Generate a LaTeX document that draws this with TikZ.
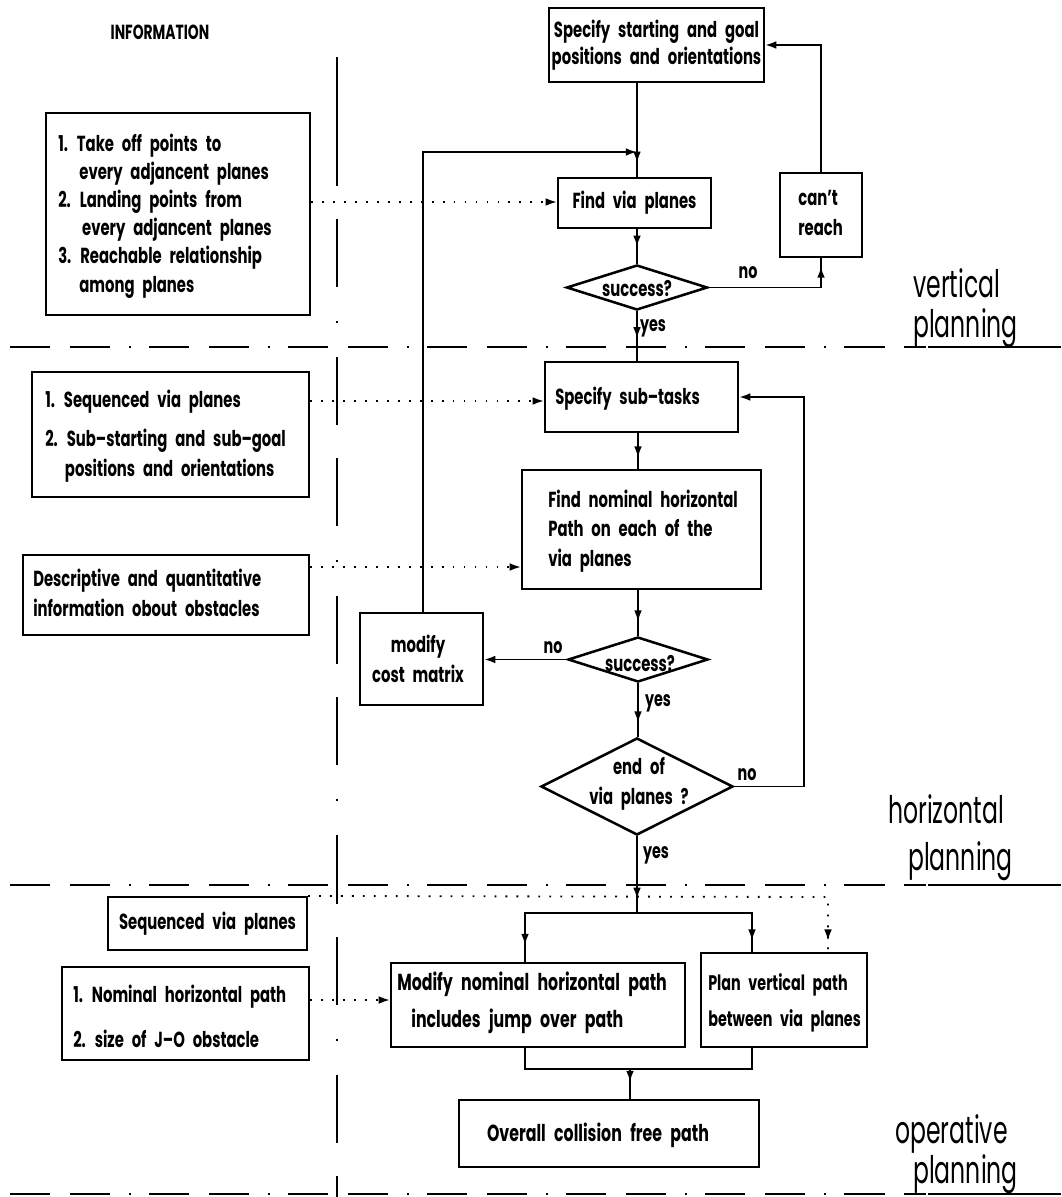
\documentclass[tikz,border=0pt]{standalone}
\usepackage{fontspec}
\setmainfont{Poppins}[FakeStretch=0.68, WordSpace=2.5]
\newfontfamily\labfont{Poppins}[FakeStretch=0.62]
\usetikzlibrary{arrows.meta,shapes.geometric,decorations.markings,fit}

\begin{document}
\begin{tikzpicture}[x=0.025cm, y=-0.025cm,
  box/.style={draw, line width=1.5pt, inner sep=0pt},
  dia/.style={draw, diamond, line width=1.8pt, inner sep=0pt},
  txt/.style={font=\bfseries\fontsize{15.5}{21}\selectfont, inner sep=0pt, align=left},
  ctxt/.style={txt, align=center},
  lab/.style={font=\labfont\fontsize{27}{32}\selectfont, inner sep=0pt, anchor=base west},
  yn/.style={font=\bfseries\fontsize{15}{18}\selectfont, inner sep=0pt},
  flow/.style={line width=1.4pt},
  tipmark/.style={postaction=decorate, decoration={markings,
      mark=at position #1 with {\arrow{Latex[length=8pt,width=5.5pt]}}}},
  tipend/.style={-{Latex[length=8pt,width=5.5pt]}},
  dots/.style={line width=1.3pt, dash pattern=on 1.3pt off 6.5pt},
  sepH/.style={line width=1.6pt, dash pattern=on 28.5pt off 14.2pt on 28.5pt off 13.5pt on 1.4pt off 12.8pt},
  sepV/.style={line width=1.6pt, dash pattern=on 48.4pt off 24.2pt on 1.4pt off 24.2pt on 48.4pt off 23.5pt},
  solid sep/.style={line width=1.6pt}
]
\fill[white] (0,0) rectangle (1061,1197);
\useasboundingbox (0,0) rectangle (1061,1197);

% ---------- section separators ----------
\draw[solid sep] (337,57) -- (337,186);
\draw[sepV] (337,219) -- (337,1197);
\draw[sepH] (10,347) -- (926,347);
\draw[solid sep] (928,347) -- (1061,347);
\draw[sepH] (10,885) -- (926,885);
\draw[solid sep] (928,885) -- (1061,885);
\draw[sepH] (10,1194) -- (926,1194);
\draw[solid sep] (928,1194) -- (1061,1194);

% ---------- column heading and phase labels ----------
\node[font=\bfseries\fontsize{14.5}{16}\selectfont, inner sep=0pt] (head) at (160,32) {INFORMATION};
\node[lab] (v1) at (913,297) {vertical};
\node[lab] (v2) at (913,337) {planning};
\node[lab] (h1) at (888,823) {horizontal};
\node[lab] (h2) at (908,870) {planning};
\node[lab] (o1) at (895,1143) {operative};
\node[lab] (o2) at (913,1183) {planning};

% ---------- information boxes ----------
\node[box, fit={(46,113) (310,315)}] (i1) {};
\node[txt, anchor=west, font=\bfseries\fontsize{15.5}{20}\selectfont] (ti1) at (58,216)
  {1. Take off points to\\\hspace*{15pt}every adjancent planes\\2. Landing points from\\\hspace*{17pt}every adjancent planes\\3. Reachable relationship\\\hspace*{15pt}among planes};
\node[box, fit={(32,372) (309,497)}] (i2) {};
\node[txt, anchor=west] (ti2) at (45,436)
  {1. Sequenced via planes\\[7pt]2. Sub–starting and sub–goal\\\hspace*{14pt}positions and orientations};
\node[box, fit={(23,555) (309,635)}] (i3) {};
\node[txt, anchor=west] (ti3) at (33,593) {Descriptive and quantitative\\information obout obstacles};
\node[box, fit={(108,897) (307,950)}] (i4) {};
\node[txt] (ti4) at (i4.center) {Sequenced via planes};
\node[box, fit={(62,967) (309,1060)}] (i5) {};
\node[txt, anchor=west] (ti5) at (73,1016) {1. Nominal horizontal path\\[11pt]2. size of J–O obstacle};

% ---------- flow chart ----------
\node[box, fit={(549,8) (764,82)}] (start) {};
\node[ctxt, font=\bfseries\fontsize{15.5}{19}\selectfont] (tstart) at (start.center) {Specify starting and goal\\positions and orientations};
\node[box, fit={(558,178) (711,228)}] (via) {};
\node[txt] (tvia) at (via.center) {Find via planes};
\node[box, fit={(780,173) (862,257)}] (reach) {};
\node[txt, anchor=west] (treach) at (798,213) {can’t\\reach};
\node[dia, minimum width=3.525cm, minimum height=1.125cm] (d1) at (637,287.5) {};
\node[txt] (td1) at (637,289) {success?};

\node[box, fit={(545,362) (738,432)}] (sub) {};
\node[txt, anchor=west] (tsub) at (555,399) {Specify sub–tasks};
\node[box, fit={(522,470) (761,589)}] (nom) {};
\node[txt, anchor=west] (tnom) at (548,531) {Find nominal horizontal\\Path on each of the\\via planes};
\node[dia, minimum width=3.5cm, minimum height=1.125cm] (d2) at (638,659.5) {};
\node[txt] (td2) at (640,664) {success?};
\node[box, fit={(360,613) (483,705)}] (cost) {};
\node[ctxt] (tcost) at (418,659) {modify\\cost matrix};
\node[dia, minimum width=4.8cm, minimum height=2.425cm] (d3) at (637,786.5) {};
\node[ctxt] (td3) at (639,784) {end of\\via planes ?};

\node[box, fit={(391,963) (685,1047)}] (mod) {};
\node[txt, anchor=west, font=\bfseries\fontsize{16.5}{21}\selectfont] (tmod) at (397,1003) {Modify nominal horizontal path\\[5pt]\hspace*{10pt}includes jump over path};
\node[box, fit={(701,953) (867,1047)}] (plan) {};
\node[txt, anchor=west, font=\bfseries\fontsize{15}{21}\selectfont] (tplan) at (708,1003) {Plan vertical path\\[5pt]between via planes};
\node[box, fit={(459,1100) (759,1167)}] (all) {};
\node[txt, font=\bfseries\fontsize{16.5}{21}\selectfont] (tall) at (598,1135) {Overall collision free path};

% branch labels
\node[yn] (n1) at (748,273) {no};
\node[yn] (y1) at (653,328) {yes};
\node[yn] (n2) at (553,648) {no};
\node[yn] (y2) at (658,703) {yes};
\node[yn] (n3) at (747,775) {no};
\node[yn] (y3) at (656,855) {yes};

% ---------- routing points ----------
\coordinate (mx) at (637,0);
\coordinate (j1) at (637,152);
\coordinate (lx) at (423,0);
\coordinate (rx) at (804,0);
\coordinate (sp) at (637,913);
\coordinate (b1) at (525,0);
\coordinate (b2) at (752,0);
\coordinate (jl) at (525,1069);
\coordinate (jr) at (752,1069);
\coordinate (jn) at (630,1069);
\coordinate (dv) at (828,897);
\coordinate (dy1) at (0,567);
\coordinate (dy2) at (0,1000);
\coordinate (dy0) at (0,401);
\coordinate (dyv) at (0,202);

% ---------- connectors ----------
\draw[flow, tipmark=-10pt] (start.south -| mx) -- (via.north -| mx);
\draw[flow, tipend] (lx |- cost.north) -- (lx |- j1) -- (j1);
\draw[flow, tipmark=-12pt] (via.south -| mx) -- (d1.north);
\draw[flow, tipmark=-6pt] (d1.east) -| (reach.south);
\draw[flow, tipend] (reach.north) |- (start.east);
\draw[flow, tipmark=-16pt] (d1.south) -- (sub.north -| d1.south);
\draw[flow, tipend] (d3.east) -| (rx |- sub.east) -- (sub.east);
\draw[flow, tipmark=-8pt] (sub.south -| d2.north) -- (nom.north -| d2.north);
\draw[flow, tipmark=-10pt] (nom.south -| d2.north) -- (d2.north);
\draw[flow, tipend] (d2.west) -- (cost.east |- d2.west);
\draw[flow, tipmark=-10pt] (d2.south) -- (d3.north -| d2.south);
\draw[flow, tipmark=-10pt] (d3.south) -- (sp);
\draw[flow, tipmark=-12pt] (sp) -| (mod.north -| b1);
\draw[flow, tipmark=-8pt] (sp) -| (plan.north -| b2);
\draw[flow] (mod.south -| b1) -- (jl) -- (jr) -- (plan.south -| b2);
\draw[flow, tipmark=-12pt] (jn) -- (all.north -| jn);

% information feeds
\draw[dots, tipend] (i1.east |- dyv) -- (via.west |- dyv);
\draw[dots, tipend] (i2.east |- dy0) -- (sub.west |- dy0);
\draw[dots, tipend] (i3.east |- dy1) -- (nom.west |- dy1);
\draw[dots, tipmark=-8pt] (i4.north east) -- (dv) -- (plan.north -| dv);
\draw[dots, tipend] (i5.east |- dy2) -- (mod.west |- dy2);
\end{tikzpicture}
\end{document}
